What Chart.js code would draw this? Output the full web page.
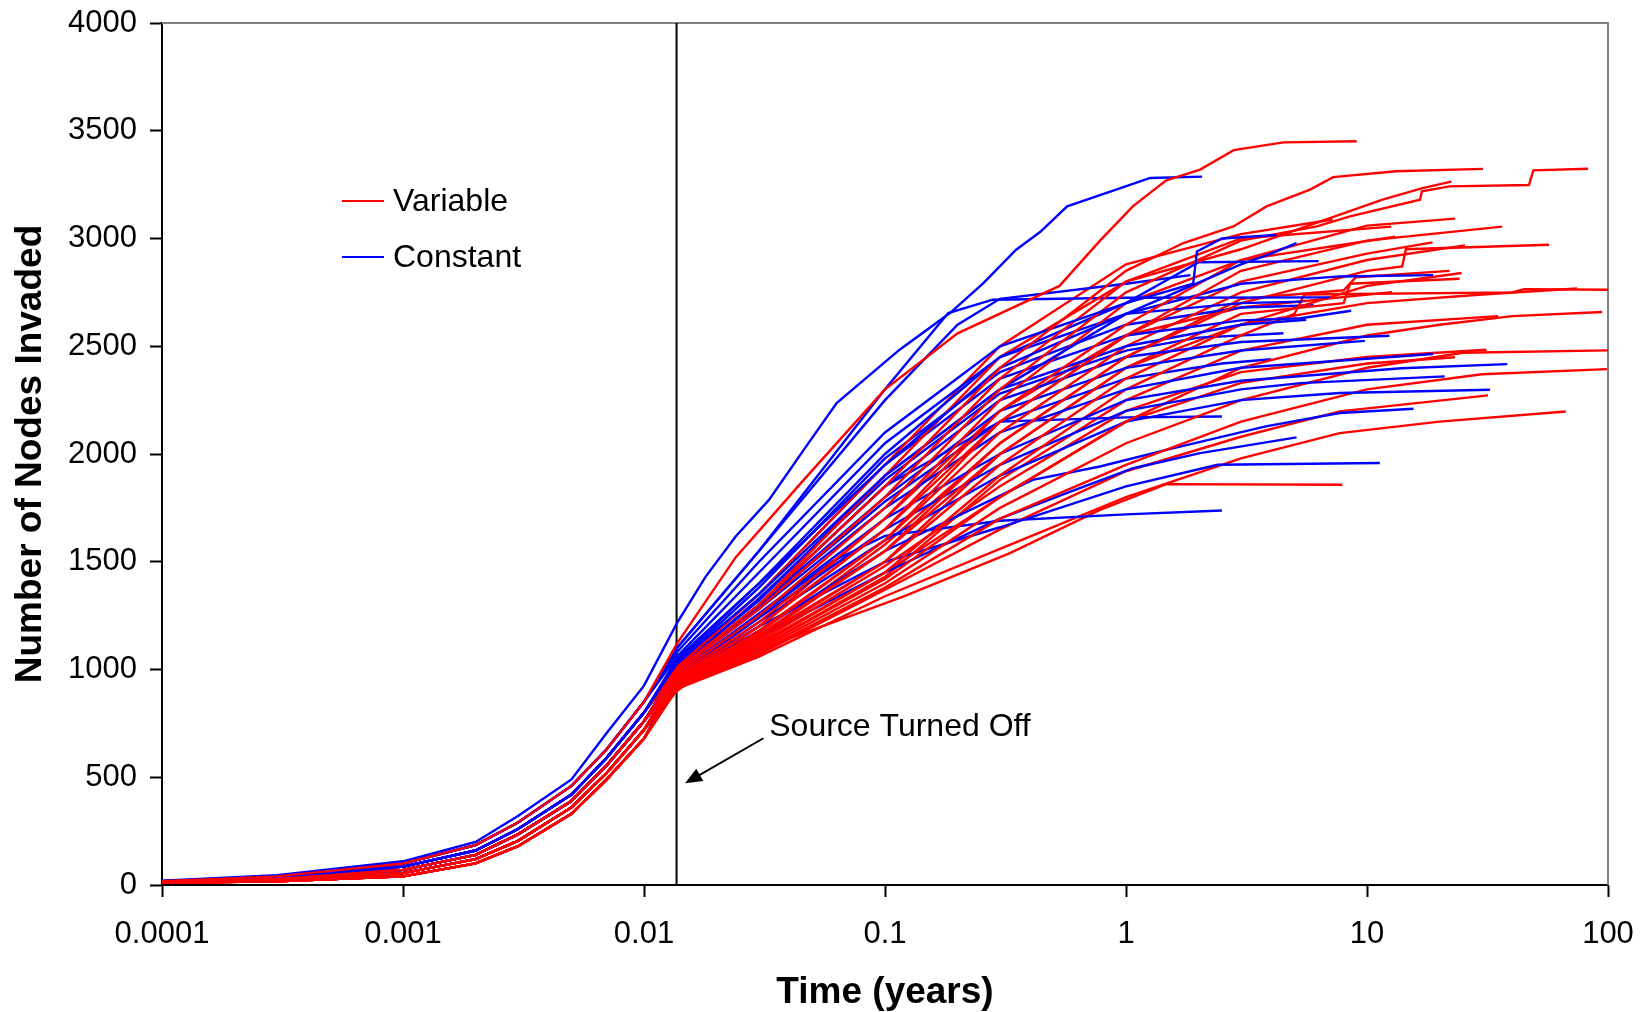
<!DOCTYPE html>
<html>
<head>
<meta charset="utf-8">
<script src="https://cdn.jsdelivr.net/npm/chart.js@4.4.0/dist/chart.umd.min.js"></script>
<style>
  html, body { margin: 0; padding: 0; background: #fff; }
  #wrap { width: 1645px; height: 1012px; }
</style>
</head>
<body>
<div id="wrap"><canvas id="invasionChart"></canvas></div>
<script>
// x axis (log) and y axis
const xTickValues = [0.0001, 0.001, 0.01, 0.1, 1, 10, 100];
const xTickLabels = ['0.0001', '0.001', '0.01', '0.1', '1', '10', '100'];
const yMin = 0, yMax = 4000, yStep = 500;
const seriesNames = ['Variable', 'Constant'];
const seriesColors = ['#ff0000', '#0000ff'];
const sourceOffTime = 0.01365;

// shared early growth (before source is turned off), read as bands of the bundle
const earlyTimes = [0.0001, 0.0003, 0.001, 0.002, 0.003, 0.005, 0.007, 0.01];
const earlyBands = [
  [20, 45, 110, 200, 320, 490, 705, 925],
  [18, 40, 100, 185, 290, 460, 630, 850],
  [16, 34, 85, 160, 260, 420, 590, 800],
  [14, 28, 70, 140, 235, 390, 555, 760],
  [12, 22, 55, 120, 205, 360, 520, 720],
  [10, 17, 40, 100, 180, 330, 490, 680]
];

// Variable runs: [time, nodes] from the source shut-off on
const variableBand = [1, 3, 4, 3, 4, 5, 2, 4, 2, 5, 4, 3, 5, 4, 5, 5, 4, 5, 3, 4, 5, 5, 4, 3, 4, 4, 5];
const variableRuns = [
  [[0.0137,1120],[0.024,1520],[0.046,1880],[0.1,2300],[0.2,2560],[0.53,2780],[0.78,2990],[1.07,3150],[1.47,3270],[2.03,3320],[2.8,3410],[4.5,3446],[9.06,3451]],
  [[0.0137,1000],[0.03,1300],[0.1,1850],[0.3,2400],[1,2850],[1.73,2979],[2.79,3056],[3.83,3149],[5.8,3227],[7.24,3285],[13.2,3312],[30.3,3323]],
  [[0.0137,980],[0.03,1250],[0.1,1750],[0.3,2300],[1,2750],[3,2990],[6.2,3056],[8.5,3103],[16.6,3180],[16.9,3219],[22,3242],[47,3248],[49,3316],[82.7,3324]],
  [[0.0137,990],[0.03,1280],[0.1,1800],[0.3,2350],[1,2800],[3,2950],[11.6,3180],[17,3234],[22.4,3264]],
  [[0.0137,960],[0.03,1200],[0.1,1650],[0.3,2200],[1,2600],[3,2900],[10,3060],[23.2,3092]],
  [[0.0137,950],[0.03,1180],[0.1,1600],[0.3,2150],[1,2550],[3,2850],[10,2990],[36.4,3055]],
  [[0.0137,1000],[0.03,1300],[0.1,1900],[0.3,2450],[1,2800],[3,3000],[12.6,3055]],
  [[0.0137,970],[0.03,1220],[0.1,1700],[0.3,2250],[1,2700],[3,2900],[13.1,3008]],
  [[0.0137,1010],[0.03,1350],[0.1,1950],[0.3,2500],[1,2880],[3,3020],[7.2,3088]],
  [[0.0137,940],[0.03,1150],[0.1,1550],[0.3,2050],[1,2450],[3,2700],[10,2850],[14,2870],[14.5,2950],[57,2971]],
  [[0.0137,950],[0.03,1170],[0.1,1600],[0.3,2100],[1,2500],[3,2750],[10,2900],[25.5,2968]],
  [[0.0137,960],[0.03,1200],[0.1,1650],[0.3,2150],[1,2550],[3,2800],[10,2930],[18.7,2982]],
  [[0.0137,940],[0.03,1140],[0.1,1500],[0.3,1950],[1,2350],[3,2600],[10,2780],[24.7,2840]],
  [[0.0137,950],[0.03,1160],[0.1,1550],[0.3,2000],[1,2400],[3,2650],[8,2700],[8.5,2790],[24.2,2813]],
  [[0.0137,930],[0.03,1120],[0.1,1450],[0.3,1900],[1,2300],[3,2550],[5,2650],[5.5,2740],[40,2750],[45,2765],[100,2762]],
  [[0.0137,920],[0.03,1100],[0.1,1420],[0.3,1800],[1,2150],[3,2400],[10,2550],[20,2600],[40,2640],[94.6,2659]],
  [[0.0137,920],[0.03,1090],[0.1,1400],[0.3,1750],[1,2050],[3,2250],[10,2400],[25,2470],[100,2481]],
  [[0.0137,910],[0.03,1080],[0.1,1380],[0.3,1700],[1,1950],[3,2150],[10,2300],[30,2370],[99,2394]],
  [[0.0137,935],[0.03,1130],[0.1,1480],[0.3,1850],[1,2200],[3,2380],[10,2450],[31.3,2484]],
  [[0.0137,930],[0.03,1110],[0.1,1450],[0.3,1800],[1,2150],[3,2330],[10,2420],[23.2,2449]],
  [[0.0137,915],[0.03,1070],[0.1,1370],[0.3,1650],[1,1920],[3,2080],[7.7,2198],[31.8,2272]],
  [[0.0137,910],[0.03,1060],[0.1,1340],[0.3,1560],[1,1800],[3,1980],[7.7,2097],[20,2150],[66.8,2197]],
  [[0.0137,900],[0.018,998],[0.046,1169],[0.119,1338],[0.33,1540],[0.78,1741],[1.47,1860],[7.9,1857]],
  [[0.0137,960],[0.03,1200],[0.1,1700],[0.3,2200],[1,2550],[3,2680],[12.7,2751]],
  [[0.0137,945],[0.03,1150],[0.1,1500],[0.3,2000],[1,2400],[3,2600],[10,2700],[30,2740],[74.5,2768]],
  [[0.0137,940],[0.03,1150],[0.1,1580],[0.3,2050],[1,2450],[3,2720],[8,2760],[9,2820],[22,2850]],
  [[0.0137,925],[0.03,1100],[0.1,1430],[0.3,1880],[1,2250],[3,2480],[10,2600],[35,2640]]
];

// Constant runs
const constantBand = [0, 1, 2, 1, 1, 2, 1, 2, 2, 3, 3, 2, 3, 3, 4, 3, 2, 4, 4, 5, 3, 3, 2, 3];
const constantRuns = [
  [[0.0137,1215],[0.018,1430],[0.024,1617],[0.033,1787],[0.046,2019],[0.063,2236],[0.115,2484],[0.186,2654],[0.256,2793],[0.35,2948],[0.44,3030],[0.57,3149],[0.91,3227],[1.26,3281],[2.07,3287]],
  [[0.0137,1080],[0.03,1500],[0.1,2100],[0.3,2500],[1,2700],[1.9,2790],[1.97,2940],[2.5,3000],[4.2,3016]],
  [[0.0137,1050],[0.03,1400],[0.1,1950],[0.3,2400],[1,2650],[3,2880],[4,2930],[5.1,2979]],
  [[0.0137,1060],[0.03,1450],[0.1,2050],[0.3,2450],[1,2700],[2,2890],[6.3,2895]],
  [[0.0137,1100],[0.03,1550],[0.1,2250],[0.2,2600],[0.3,2720],[1,2790],[1.85,2830]],
  [[0.0137,1030],[0.03,1350],[0.1,1900],[0.3,2300],[1,2650],[3,2790],[7.7,2824],[18.8,2830]],
  [[0.0137,1100],[0.03,1550],[0.1,2300],[0.183,2654],[0.28,2716],[1,2725],[7,2727]],
  [[0.0137,1040],[0.03,1400],[0.1,2000],[0.3,2450],[1,2650],[3,2700],[5.4,2707]],
  [[0.0137,1020],[0.03,1350],[0.1,1950],[0.3,2350],[1,2550],[3,2620],[5.3,2630],[8.6,2665]],
  [[0.0137,1010],[0.03,1320],[0.1,1900],[0.3,2300],[1,2500],[3,2600],[5.6,2623]],
  [[0.0137,1000],[0.03,1300],[0.1,1850],[0.3,2250],[1,2450],[3,2520],[12.4,2549]],
  [[0.0137,1000],[0.03,1300],[0.1,1800],[0.3,2200],[1,2400],[3,2480],[9.8,2525]],
  [[0.0137,990],[0.03,1280],[0.1,1750],[0.3,2100],[1,2300],[3,2400],[18.8,2464]],
  [[0.0137,980],[0.03,1260],[0.1,1700],[0.3,2000],[1,2250],[3,2340],[13.9,2398],[38.2,2417]],
  [[0.0137,970],[0.03,1240],[0.1,1650],[0.3,1950],[1,2200],[3,2300],[5.3,2329],[21,2360]],
  [[0.0137,960],[0.03,1220],[0.1,1600],[0.3,1900],[1,2150],[3,2250],[7.7,2283],[32.4,2298]],
  [[0.0137,1000],[0.03,1300],[0.1,1850],[0.3,2150],[1,2170],[2.5,2174]],
  [[0.0137,970],[0.03,1180],[0.1,1550],[0.41,1880],[0.78,1942],[1.47,2019],[3.8,2128],[7.7,2190],[15.6,2210]],
  [[0.0137,960],[0.03,1150],[0.1,1450],[0.3,1700],[0.57,1820],[1.07,1934],[2.03,2004],[5.1,2077]],
  [[0.0137,970],[0.03,1200],[0.1,1500],[0.3,1660],[1,1850],[2.4,1950],[11.3,1958]],
  [[0.0137,980],[0.03,1250],[0.06,1500],[0.1,1620],[0.3,1690],[1,1720],[2.5,1738]],
  [[0.0137,1000],[0.03,1330],[0.1,1880],[0.3,2280],[1,2480],[2,2540],[4.5,2560]],
  [[0.0137,1030],[0.03,1380],[0.1,1980],[0.3,2380],[1,2600],[3,2680],[6,2690]],
  [[0.0137,990],[0.03,1290],[0.1,1780],[0.3,2150],[1,2350],[2.5,2420],[4,2440]]
];

// annotation
const noteText = 'Source Turned Off';
const noteAt = [0.0331, 733];
const arrowFrom = [0.0313, 681];
const arrowTo = [0.0148, 472];

const FONT = '"Liberation Sans", Arial, Helvetica, sans-serif';

function buildRun(bandIdx, tail) {
  const band = earlyBands[bandIdx];
  const pts = earlyTimes.map((t, i) => ({ x: t, y: band[i] }));
  tail.forEach(p => pts.push({ x: p[0], y: p[1] }));
  return pts;
}

const datasets = [];
const n = Math.max(variableRuns.length, constantRuns.length);
for (let i = 0; i < n; i++) {
  if (i < variableRuns.length) {
    datasets.push({ label: seriesNames[0], data: buildRun(variableBand[i], variableRuns[i]),
      borderColor: seriesColors[0], borderWidth: 2.4, pointRadius: 0, fill: false, tension: 0 });
  }
  if (i < constantRuns.length) {
    datasets.push({ label: seriesNames[1], data: buildRun(constantBand[i], constantRuns[i]),
      borderColor: seriesColors[1], borderWidth: 2.4, pointRadius: 0, fill: false, tension: 0 });
  }
}

// frame, source line, legend and note
const extras = {
  id: 'extras',
  beforeDatasetsDraw(chart) {
    const { ctx, chartArea: a, scales: { x } } = chart;
    ctx.save();
    ctx.strokeStyle = '#808080';
    ctx.lineWidth = 2;
    ctx.beginPath();
    ctx.moveTo(a.left, a.top); ctx.lineTo(a.right, a.top); ctx.lineTo(a.right, a.bottom);
    ctx.stroke();
    const sx = x.getPixelForValue(sourceOffTime);
    ctx.strokeStyle = '#000';
    ctx.beginPath();
    ctx.moveTo(sx, a.top); ctx.lineTo(sx, a.bottom);
    ctx.stroke();
    ctx.restore();
  },
  afterDatasetsDraw(chart) {
    const { ctx, chartArea: a, scales: { x, y } } = chart;
    ctx.save();
    // legend
    ctx.font = '32px ' + FONT;
    ctx.textBaseline = 'middle';
    ctx.fillStyle = '#000';
    ctx.lineWidth = 2;
    const rows = [a.top + 178, a.top + 234];
    seriesNames.forEach((name, i) => {
      ctx.strokeStyle = seriesColors[i];
      ctx.beginPath();
      ctx.moveTo(a.left + 180, rows[i]); ctx.lineTo(a.left + 222, rows[i]);
      ctx.stroke();
      ctx.fillText(name, a.left + 231, rows[i] + 1);
    });
    // note + arrow
    ctx.font = '32px ' + FONT;
    ctx.fillText(noteText, x.getPixelForValue(noteAt[0]), y.getPixelForValue(noteAt[1]));
    const x0 = x.getPixelForValue(arrowFrom[0]), y0 = y.getPixelForValue(arrowFrom[1]);
    const x1 = x.getPixelForValue(arrowTo[0]), y1 = y.getPixelForValue(arrowTo[1]);
    const ang = Math.atan2(y1 - y0, x1 - x0);
    ctx.strokeStyle = '#000';
    ctx.lineWidth = 2;
    ctx.beginPath();
    ctx.moveTo(x0, y0);
    ctx.lineTo(x1 - 12 * Math.cos(ang), y1 - 12 * Math.sin(ang));
    ctx.stroke();
    ctx.beginPath();
    ctx.moveTo(x1, y1);
    ctx.lineTo(x1 - 17 * Math.cos(ang) + 7 * Math.sin(ang), y1 - 17 * Math.sin(ang) - 7 * Math.cos(ang));
    ctx.lineTo(x1 - 17 * Math.cos(ang) - 7 * Math.sin(ang), y1 - 17 * Math.sin(ang) + 7 * Math.cos(ang));
    ctx.closePath();
    ctx.fillStyle = '#000';
    ctx.fill();
    ctx.restore();
  }
};

const ctx = document.getElementById('invasionChart').getContext('2d');
new Chart(ctx, {
  type: 'line',
  data: { datasets },
  plugins: [extras],
  options: {
    responsive: true,
    maintainAspectRatio: false,
    animation: false,
    devicePixelRatio: 1,
    layout: { padding: { top: 23, right: 37, left: 0, bottom: 0 } },
    plugins: { legend: { display: false }, tooltip: { enabled: false } },
    scales: {
      x: {
        type: 'logarithmic',
        min: xTickValues[0],
        max: xTickValues[xTickValues.length - 1],
        afterBuildTicks: s => { s.ticks = xTickValues.map(v => ({ value: v })); },
        afterFit: s => { s.height = 127; s.paddingLeft = 0; s.paddingRight = 0; },
        ticks: {
          autoSkip: false, maxRotation: 0, padding: 19, color: '#000',
          font: { family: FONT, size: 31 },
          callback: (v, i) => xTickLabels[i]
        },
        grid: { drawOnChartArea: false, drawTicks: true, tickLength: 12, tickColor: '#000', tickWidth: 2 },
        border: { display: true, color: '#000', width: 2 },
        title: { display: true, text: 'Time (years)', color: '#000', padding: { top: 0, bottom: -3 },
          font: { family: FONT, size: 37, weight: 'bold' } }
      },
      y: {
        min: yMin, max: yMax,
        afterFit: s => { s.width = 162; s.paddingTop = 0; s.paddingBottom = 0; },
        ticks: { stepSize: yStep, padding: 13, color: '#000', font: { family: FONT, size: 31 },
          callback: v => String(v) },
        grid: { drawOnChartArea: false, drawTicks: true, tickLength: 12, tickColor: '#000', tickWidth: 2 },
        border: { display: true, color: '#000', width: 2 },
        title: { display: true, text: 'Number of Nodes Invaded', color: '#000', padding: { top: 9, bottom: 0 },
          font: { family: FONT, size: 37, weight: 'bold' } }
      }
    }
  }
});
</script>
</body>
</html>
